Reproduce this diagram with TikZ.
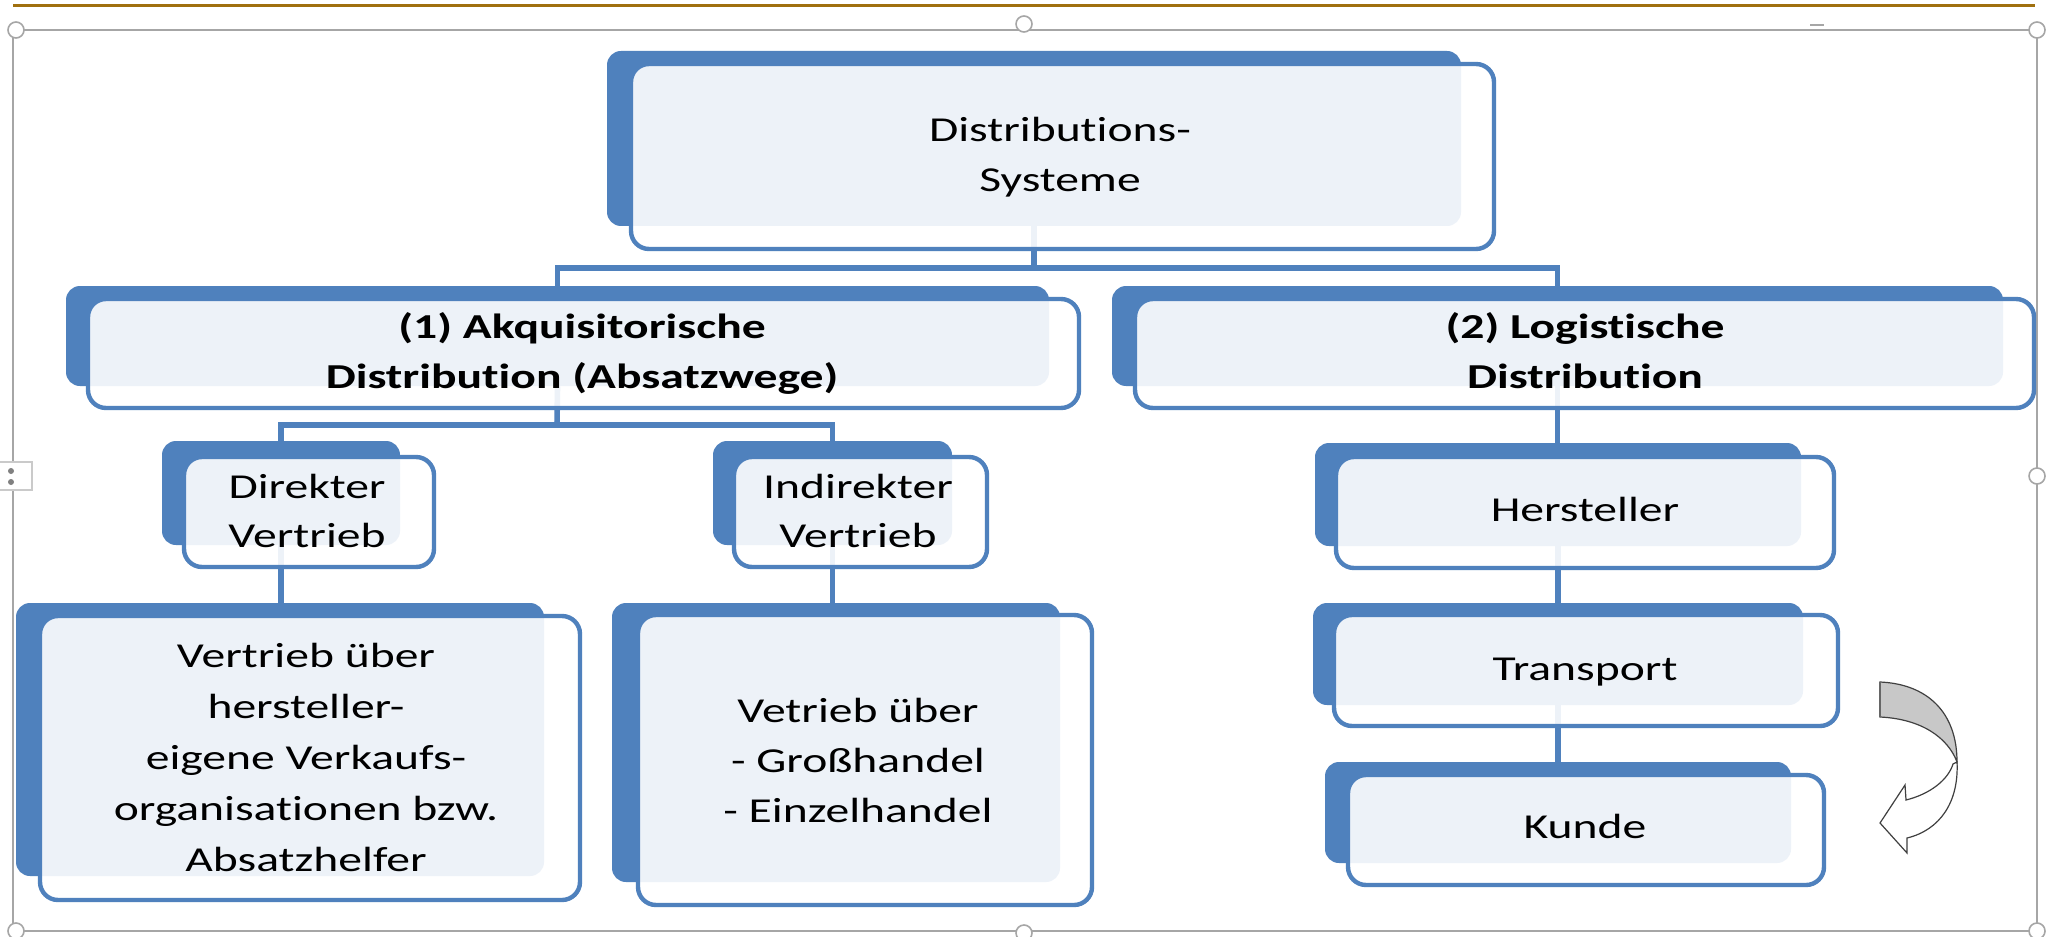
\documentclass[tikz,border=0pt]{standalone}
\usepackage{fontspec}
\setmainfont{Carlito}[FakeStretch=1.36, Ligatures={NoCommon}]
\usetikzlibrary{fit}
\definecolor{accent}{HTML}{4F81BD}
\definecolor{framegray}{HTML}{A6A6A6}
\definecolor{rulebrown}{HTML}{A0700F}
\definecolor{arrowgray}{HTML}{C8C8C8}
\begin{document}
\begin{tikzpicture}[x=0.5pt,y=-0.5pt,
  backbox/.style={fill=accent, draw=none, rounded corners=7pt, inner sep=0pt},
  frontbox/.style={draw=accent, line width=2.2pt, fill=white, fill opacity=0.9, rounded corners=9pt, inner sep=0pt},
  conn/.style={draw=accent, line width=2.8pt},
  txt/.style={inner sep=0pt, align=center, text=black, font=\fontsize{17.5}{24.5}\selectfont},
  boldtxt/.style={txt, font=\bfseries\fontsize{17.5}{25}\selectfont},
  handle/.style={draw=framegray, fill=white, line width=0.8pt}]
\useasboundingbox (0,0) rectangle (2064,936);
\fill[white] (0,0) rectangle (2064,936);

% rule and selection frame
\draw[rulebrown, line width=1.5pt] (13,6) -- (2035,6);
\draw[framegray, line width=1pt] (13,30) rectangle (2037,931);
\draw[framegray, line width=1pt] (1810,25) -- (1824,25);
\foreach \p in {(16,30),(1024,24),(2037,30),(2037,476),(2037,931),(1024,933),(16,931)}
  \draw[handle] \p circle (4pt);
\draw[framegray!60, fill=white, line width=0.6pt] (-4,462) rectangle (32,490);
\fill[gray] (11,471) circle (1.5pt) (11,482) circle (1.5pt);

% back plates
\node[backbox, fit={(607,51) (1461,226)}] (topB) {};
\node[backbox, fit={(66,286) (1049,386)}] (L2lB) {};
\node[backbox, fit={(1112,286) (2003,386)}] (L2rB) {};
\node[backbox, fit={(162,441) (400,545)}] (L3dB) {};
\node[backbox, fit={(713,441) (952,545)}] (L3iB) {};
\node[backbox, fit={(16,603) (544,876)}] (L4dB) {};
\node[backbox, fit={(612,603) (1060,882)}] (L4iB) {};
\node[backbox, fit={(1315,443) (1801,546)}] (HB) {};
\node[backbox, fit={(1313,603) (1803,705)}] (TB) {};
\node[backbox, fit={(1325,762) (1791,863)}] (KB) {};

% connectors
\coordinate (bus1) at (1034,268);
\coordinate (bus2) at (557,425);
\draw[conn] (topB.south) -- (bus1);
\draw[conn] (L2lB.north) |- (bus1) -| (L2rB.north);
\draw[conn] (L2lB.south) -- (bus2);
\draw[conn] (L3dB.north) |- (bus2) -| (L3iB.north);
\draw[conn] (L3dB.south) -- (L3dB.south |- L4dB.north);
\draw[conn] (L3iB.south) -- (L3iB.south |- L4iB.north);
\draw[conn] (L2rB.south) -- (L2rB.south |- HB.north);
\draw[conn] (HB.south) -- (HB.south |- TB.north);
\draw[conn] (TB.south) -- (TB.south |- KB.north);

% front frames
\node[frontbox, fit={(631,64) (1494,249)}] (topF) {};
\node[frontbox, fit={(88,299) (1079,408)}] (L2lF) {};
\node[frontbox, fit={(1135,299) (2034,408)}] (L2rF) {};
\node[frontbox, fit={(184,457) (434,567)}] (L3dF) {};
\node[frontbox, fit={(734,457) (987,567)}] (L3iF) {};
\node[frontbox, fit={(40,616) (580,900)}] (L4dF) {};
\node[frontbox, fit={(638,615) (1092,905)}] (L4iF) {};
\node[frontbox, fit={(1336,457) (1834,568)}] (HF) {};
\node[frontbox, fit={(1334,615) (1838,726)}] (TF) {};
\node[frontbox, fit={(1348,775) (1824,885)}] (KF) {};

% texts
\node[txt, font=\fontsize{17.5}{25}\selectfont] (tTop) at (1060,157) {Distributions-\\Systeme};
\node[boldtxt] (tAk) at (582,353) {(1) Akquisitorische\\Distribution (Absatzwege)};
\node[boldtxt] (tLog) at (1585,351) {(2) Logistische\\Distribution};
\node[txt] (tDir) at (307,511) {Direkter\\Vertrieb};
\node[txt] (tInd) at (858,511) {Indirekter\\Vertrieb};
\node[txt, font=\fontsize{17.5}{25.5}\selectfont] (tVD) at (306,757) {Vertrieb über\\hersteller-\\eigene Verkaufs-\\organisationen bzw.\\Absatzhelfer};
\node[txt, font=\fontsize{17.5}{25}\selectfont] (tVI) at (858,760) {Vetrieb über\\- Großhandel\\- Einzelhandel};
\node[txt, anchor=base] (tHer) at (1585,521) {Hersteller};
\node[txt, anchor=base] (tTra) at (1585,680) {Transport};
\node[txt, anchor=base] (tKun) at (1585,838) {Kunde};

% curved block arrow
\filldraw[fill=arrowgray, draw=black!75, line width=0.6pt]
  (1880,682) .. controls (1927,684) and (1957,712) .. (1957,762)
  .. controls (1948,738) and (1922,719) .. (1880,717) -- cycle;
\filldraw[fill=white, draw=black!75, line width=0.6pt]
  (1957,762) .. controls (1959,802) and (1940,830) .. (1907,838)
  -- (1907,853) -- (1880,823) -- (1905,785) -- (1906,800)
  .. controls (1930,794) and (1948,780) .. (1953,764) -- cycle;
\draw[black!60, line width=1.2pt] (1880,682) -- (1880,717);
\end{tikzpicture}
\end{document}
